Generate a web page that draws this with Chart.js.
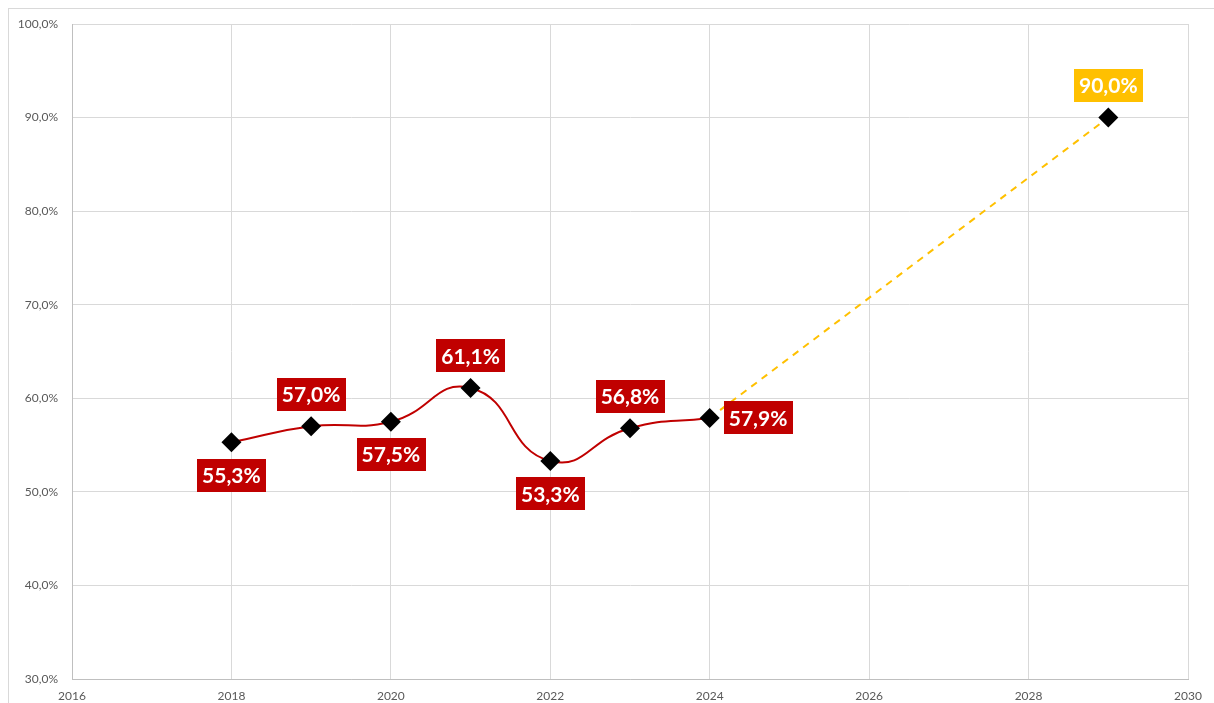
<!DOCTYPE html>
<html>
<head>
<meta charset="utf-8">
<script src="https://cdn.jsdelivr.net/npm/chart.js@4.4.1/dist/chart.umd.min.js"></script>
<style>
  html, body { margin: 0; padding: 0; background: #fff; }
  #wrap { position: relative; width: 1214px; height: 703px; overflow: hidden; }
  #frame { position: absolute; left: 8px; top: 8px; width: 1220px; height: 720px; border: 1px solid #d9d9d9; box-sizing: border-box; }
  canvas { position: absolute; left: 0; top: 0; }
</style>
</head>
<body>
<div id="wrap">
  <div id="frame"></div>
  <canvas id="chart" width="1214" height="703"></canvas>
</div>
<script>
// ── data ─────────────────────────────────────────
const years = [2018, 2019, 2020, 2021, 2022, 2023, 2024];
const shares = [55.3, 57.0, 57.5, 61.1, 53.3, 56.8, 57.9];
const targetYears = [2024, 2029];
const targetShares = [57.9, 90.0];

// label placement per point (style, not data)
const actualLabelPos = ['below', 'above', 'below', 'above', 'below', 'above', 'right'];
const targetLabelPos = [null, 'above'];

const RED = '#C00000';
const GOLD = '#FFC000';

const fmt = v => v.toFixed(1).replace('.', ',') + '%';

// simple data label boxes drawn from the point elements
const boxLabels = {
    id: 'boxLabels',
    afterDatasetsDraw(chart) {
        const ctx = chart.ctx;
        ctx.save();
        ctx.font = 'bold 21px Lato, "Open Sans", sans-serif';
        ctx.textBaseline = 'middle';
        ctx.textAlign = 'center';
        chart.data.datasets.forEach((ds, di) => {
            const meta = chart.getDatasetMeta(di);
            meta.data.forEach((pt, i) => {
                const pos = ds.labelPos[i];
                if (!pos) return;
                const txt = fmt(ds.data[i].y);
                const w = ctx.measureText(txt).width + 10;
                const h = 33;
                let cx = pt.x, cy = pt.y;
                if (pos === 'above') cy -= 32;
                if (pos === 'below') cy += 33;
                if (pos === 'right') cx += 14 + w / 2;
                ctx.fillStyle = ds.labelBg;
                ctx.fillRect(Math.round(cx - w / 2), Math.round(cy - h / 2), Math.round(w), h);
                ctx.fillStyle = '#fff';
                ctx.fillText(txt, cx, cy + 1);
            });
        });
        ctx.restore();
    }
};

const ctx = document.getElementById('chart').getContext('2d');
new Chart(ctx, {
    type: 'line',
    data: {
        datasets: [
            {
                label: 'Actual',
                data: years.map((y, i) => ({ x: y, y: shares[i] })),
                borderColor: RED, borderWidth: 2,
                tension: 0.5,
                pointStyle: 'rectRot', pointRadius: 10, pointHoverRadius: 10,
                pointBackgroundColor: '#000', pointBorderColor: '#000', pointBorderWidth: 0,
                labelPos: actualLabelPos, labelBg: RED,
                order: 1
            },
            {
                label: 'Target',
                data: targetYears.map((y, i) => ({ x: y, y: targetShares[i] })),
                borderColor: GOLD, borderWidth: 2, borderDash: [7, 6],
                pointStyle: 'rectRot', pointRadius: [0, 10], pointHoverRadius: [0, 10],
                pointBackgroundColor: '#000', pointBorderColor: '#000', pointBorderWidth: 0,
                labelPos: targetLabelPos, labelBg: GOLD,
                order: 2
            }
        ]
    },
    options: {
        responsive: false,
        animation: false,
        layout: { padding: { left: 0, right: 26, top: 24, bottom: 0 } },
        plugins: { legend: { display: false }, tooltip: { enabled: false } },
        scales: {
            x: {
                type: 'linear', min: 2016, max: 2030,
                afterFit: s => { s.height = 24; },
                grid: { color: '#d9d9d9', drawTicks: false },
                border: { color: '#bfbfbf' },
                ticks: { stepSize: 2, padding: 10, color: '#595959', font: { family: 'Lato, "Open Sans", sans-serif', size: 12 }, callback: v => String(v) }
            },
            y: {
                min: 30, max: 100,
                afterFit: s => { s.width = 72; },
                grid: { color: '#d9d9d9', drawTicks: false },
                border: { color: '#bfbfbf' },
                ticks: { stepSize: 10, padding: 14, color: '#595959', font: { family: 'Lato, "Open Sans", sans-serif', size: 12 }, callback: v => fmt(v) }
            }
        }
    },
    plugins: [boxLabels]
});
</script>
</body>
</html>
